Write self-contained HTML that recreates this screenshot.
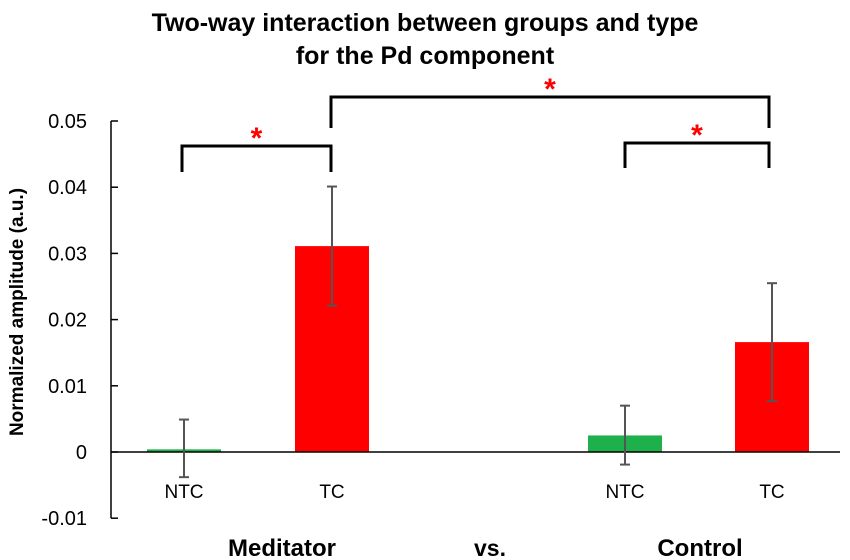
<!DOCTYPE html>
<html><head><meta charset="utf-8"><style>
body{margin:0;background:#fff;}
svg{display:block;font-family:"Liberation Sans",sans-serif;}
</style></head><body>
<svg id="chart" width="850" height="560">
<text x="425" y="31" text-anchor="middle" font-size="25" font-weight="bold">Two-way interaction between groups and type</text>
<text x="425" y="64" text-anchor="middle" font-size="25" font-weight="bold">for the Pd component</text>
<text transform="translate(23,312) rotate(-90)" text-anchor="middle" font-size="19" font-weight="bold">Normalized amplitude (a.u.)</text>
<g id="axes"></g><g id="bars"></g><g id="sig"></g>
<text x="282" y="556" text-anchor="middle" font-size="24" font-weight="bold">Meditator</text>
<text x="490" y="556" text-anchor="middle" font-size="23" font-weight="bold">vs.</text>
<text x="700" y="556" text-anchor="middle" font-size="24" font-weight="bold">Control</text>
</svg>
<script>
const categories=["NTC","TC","NTC","TC"];
const values=[0.0004,0.0311,0.0025,0.0166];
const errLow=[-0.0038,0.0221,-0.0019,0.0077];
const errHigh=[0.0049,0.0401,0.0070,0.0255];
const colors=["#1db04b","#ff0000","#1db04b","#ff0000"];
const yTicks=[-0.01,0,0.01,0.02,0.03,0.04,0.05];
const tickLabels=["-0.01","0","0.01","0.02","0.03","0.04","0.05"];
const NS="http://www.w3.org/2000/svg";
const y=v=>452-v*6620;
const xCenter=[184,332,625,772];
const bw=74;
function mk(t,a,p){const e=document.createElementNS(NS,t);for(const k in a)e.setAttribute(k,a[k]);p.appendChild(e);return e;}
const axes=document.getElementById('axes');
let ax=mk('line',{x1:111,x2:111,y1:y(0.05),y2:y(-0.01),stroke:'#000','stroke-width':1.5},axes);


yTicks.forEach((v,i)=>{
 let t=mk('line',{x1:111,x2:118,y1:y(v),y2:y(v),stroke:'#000','stroke-width':1.5},axes);
 
 
 let l=mk('text',{x:87,y:y(v)+7,'text-anchor':'end','font-size':20},axes);
 l.textContent=tickLabels[i];
 
 
});
const bars=document.getElementById('bars');
values.forEach((v,i)=>{
 const cx=xCenter[i];
 let r=mk('rect',{x:cx-bw/2,y:Math.min(y(v),y(0)),width:bw,height:Math.max(Math.abs(y(v)-y(0)),2),fill:colors[i]},bars);
 
 
 let c=mk('text',{x:cx,y:498,'text-anchor':'middle','font-size':19},bars);
 c.textContent=categories[i];
 
 
});
let z=mk('line',{x1:111,x2:840,y1:y(0),y2:y(0),stroke:'#000','stroke-width':1.5},bars);


values.forEach((v,i)=>{
 const cx=xCenter[i];
 const g=mk('g',{stroke:'#555','stroke-width':2},bars);
 
 
 mk('line',{x1:cx,x2:cx,y1:y(errHigh[i]),y2:y(errLow[i])},g);
 mk('line',{x1:cx-5,x2:cx+5,y1:y(errHigh[i]),y2:y(errHigh[i])},g);
 mk('line',{x1:cx-5,x2:cx+5,y1:y(errLow[i]),y2:y(errLow[i])},g);
});
const sig=document.getElementById('sig');
const br=[[182,331,146,172,172],[331,769,97,128,128],[625,769,143,168,168]];
br.forEach((b,i)=>{
 let p=mk('path',{d:`M${b[0]},${b[3]} V${b[2]} H${b[1]} V${b[4]}`,fill:'none',stroke:'#000','stroke-width':3},sig);
 
 
 let s=mk('text',{x:(b[0]+b[1])/2,y:b[2]+2,'text-anchor':'middle','font-size':30,'font-weight':'bold',fill:'#ff0000'},sig);
 s.textContent='*';
 
 
});
</script>
</body></html>
